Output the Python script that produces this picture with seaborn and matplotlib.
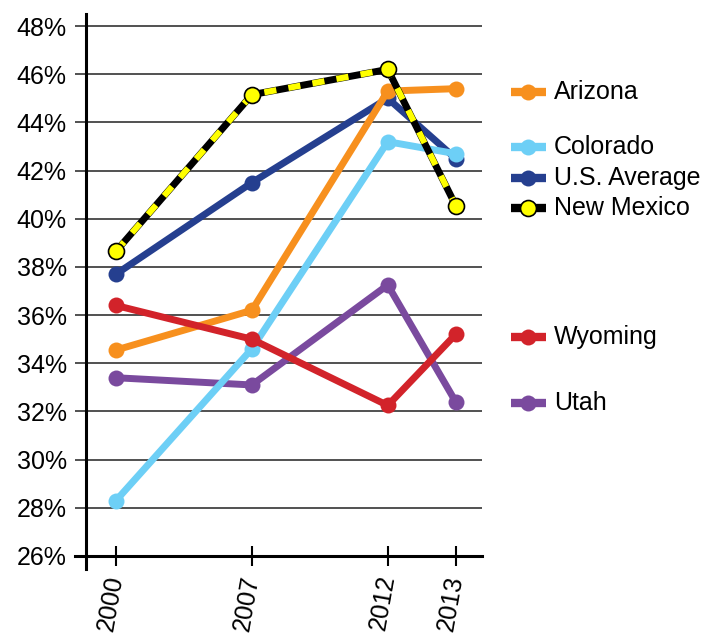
import matplotlib
matplotlib.use("Agg")
import matplotlib.pyplot as plt
import pandas as pd
import seaborn as sns

# chart data (percent)
years = ["2000", "2007", "2012", "2013"]
x_pos = [0, 2, 4, 5]  # where each year sits on the axis
arizona = [34.55, 36.2, 45.3, 45.4]
colorado = [28.3, 34.6, 43.2, 42.7]
us_average = [37.7, 41.5, 45.0, 42.5]
new_mexico = [38.65, 45.15, 46.2, 40.55]
wyoming = [36.4, 35.0, 32.25, 35.2]
utah = [33.4, 33.1, 37.25, 32.4]
y_ticks = [26, 28, 30, 32, 34, 36, 38, 40, 42, 44, 46, 48]

series = {
    "Utah": utah,
    "U.S. Average": us_average,
    "Colorado": colorado,
    "Arizona": arizona,
    "Wyoming": wyoming,
    "New Mexico": new_mexico,
}
colors = {
    "Arizona": "#F7901E",
    "Colorado": "#6DCFF6",
    "U.S. Average": "#253F8F",
    "New Mexico": "#000000",
    "Wyoming": "#D2232A",
    "Utah": "#7A4A9E",
}
# legend labels sit next to the line ends (y in data units)
legend_order = ["Arizona", "Colorado", "U.S. Average", "New Mexico", "Wyoming", "Utah"]
legend_y = [45.25, 42.98, 41.7, 40.45, 35.1, 32.35]

rows = []
for name, vals in series.items():
    for yr, xp, v in zip(years, x_pos, vals):
        rows.append({"state": name, "year": yr, "x": xp, "pct": v})
df = pd.DataFrame(rows)

sns.set_style("white")
plt.rcParams["font.family"] = ["Liberation Sans", "DejaVu Sans"]
plt.rcParams["text.color"] = "black"
plt.rcParams["xtick.color"] = "black"
plt.rcParams["ytick.color"] = "black"

fig = plt.figure(figsize=(7.12, 6.37), dpi=100)
ax = fig.add_axes([75 / 712, 68 / 637, 407 / 712, 555 / 637])

lw = 5.0
ms = 11.5
fs = 18
sns.lineplot(data=df[df.state != "New Mexico"], x="x", y="pct", hue="state",
             hue_order=[s for s in series if s != "New Mexico"], palette=colors,
             marker="o", markersize=ms, markeredgewidth=0, linewidth=lw,
             sort=False, legend=False, ax=ax)

nm = df[df.state == "New Mexico"]
sns.lineplot(data=nm, x="x", y="pct", color="black", linewidth=lw, sort=False,
             legend=False, ax=ax)
ax.plot(nm["x"], nm["pct"], color="#FFFF00", linewidth=lw - 0.6,
        dashes=(2.0, 2.0), solid_capstyle="butt", dash_capstyle="butt")
ax.plot(nm["x"], nm["pct"], linestyle="none", marker="o", markersize=ms,
        markerfacecolor="#FFFF00", markeredgecolor="black", markeredgewidth=1.2)

# spines first: moving them resets the ticks
for s in ["top", "right"]:
    ax.spines[s].set_visible(False)
ax.spines["left"].set_position(("data", -0.44))
ax.spines["left"].set_linewidth(2.2)
ax.spines["left"].set_color("black")
ax.spines["bottom"].set_position(("data", 26))
ax.spines["bottom"].set_linewidth(2.2)
ax.spines["bottom"].set_color("black")

ax.set_xlim(-0.603, 5.387)
ax.set_ylim(25.46, 48.5)
ax.spines["bottom"].set_bounds(-0.603, 5.387)
ax.set_xticks(x_pos)
ax.set_xticklabels(years, rotation=80, ha="right", va="center",
                   rotation_mode="anchor", fontsize=fs)
ax.set_yticks(y_ticks)
ax.set_yticklabels([f"{t}%" for t in y_ticks], fontsize=fs)
ax.set_xlabel("")
ax.set_ylabel("")

ax.grid(axis="y", color="#333333", linewidth=1.2)
ax.grid(axis="x", visible=False)
ax.set_axisbelow(True)

ax.tick_params(axis="y", length=0, pad=14)
ax.tick_params(axis="x", direction="inout", length=14, width=1.5, pad=7,
               color="black", bottom=True)

# legend entries next to the plot
for name, ly in zip(legend_order, legend_y):
    col = colors[name]
    ax.plot([5.81, 6.33], [ly, ly], color=col, linewidth=lw + 1, clip_on=False,
            solid_capstyle="butt")
    if name == "New Mexico":
        ax.plot([6.06], [ly], marker="o", markersize=ms, markerfacecolor="#FFFF00",
                markeredgecolor="black", markeredgewidth=1.2, clip_on=False)
    else:
        ax.plot([6.06], [ly], marker="o", markersize=ms, color=col,
                markeredgewidth=0, clip_on=False)
    ax.text(6.45, ly, name, fontsize=fs, va="center", ha="left", color="black")

fig.savefig("out.png", dpi=100)
